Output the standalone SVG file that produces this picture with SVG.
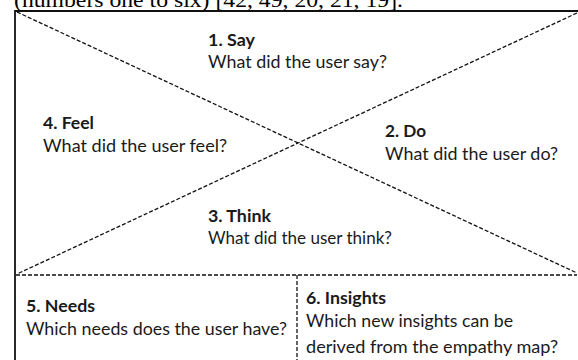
<svg xmlns="http://www.w3.org/2000/svg" width="578" height="360" viewBox="0 0 578 360">
<style>
.t{font-family:Lato,"Open Sans","Liberation Sans",sans-serif;font-size:17px;fill:#1a1a1a}
.b{font-weight:bold}
.d{stroke:#111;stroke-width:1.3;stroke-dasharray:4 2;fill:none}
.s{stroke:#111;stroke-width:1.8;fill:none}
</style>
<rect width="578" height="360" fill="#fff"/>
<text x="14" y="7" font-family="Liberation Serif,serif" font-size="21" fill="#000" textLength="389" lengthAdjust="spacingAndGlyphs">(numbers one to six) [42, 49, 20, 21, 19].</text>
<g id="connectors">
<path class="s" d="M15 360 V11 H578"/>
<path class="d" d="M17 12 L577 273"/>
<path class="d" d="M577 13 L17 274"/>
<path class="d" d="M16 275 H577"/>
<path class="d" d="M297 275 V360"/>
</g>
<g id="say">
<text class="t b" x="208" y="46" textLength="47" lengthAdjust="spacingAndGlyphs">1. Say</text>
<text class="t" x="208" y="68" textLength="179" lengthAdjust="spacingAndGlyphs">What did the user say?</text>
</g>
<g id="feel">
<text class="t b" x="43" y="129" textLength="51" lengthAdjust="spacingAndGlyphs">4. Feel</text>
<text class="t" x="43" y="152" textLength="184" lengthAdjust="spacingAndGlyphs">What did the user feel?</text>
</g>
<g id="do">
<text class="t b" x="385" y="137" textLength="41" lengthAdjust="spacingAndGlyphs">2. Do</text>
<text class="t" x="385" y="160" textLength="173" lengthAdjust="spacingAndGlyphs">What did the user do?</text>
</g>
<g id="think">
<text class="t b" x="208" y="222" textLength="63" lengthAdjust="spacingAndGlyphs">3. Think</text>
<text class="t" x="208" y="244" textLength="184" lengthAdjust="spacingAndGlyphs">What did the user think?</text>
</g>
<g id="needs">
<text class="t b" x="26" y="312" textLength="69" lengthAdjust="spacingAndGlyphs">5. Needs</text>
<text class="t" x="26" y="335" textLength="261" lengthAdjust="spacingAndGlyphs">Which needs does the user have?</text>
</g>
<g id="insights">
<text class="t b" x="306" y="304" textLength="80" lengthAdjust="spacingAndGlyphs">6. Insights</text>
<text class="t" x="306" y="327" textLength="207" lengthAdjust="spacingAndGlyphs">Which new insights can be</text>
<text class="t" x="306" y="353" textLength="252" lengthAdjust="spacingAndGlyphs">derived from the empathy map?</text>
</g>
</svg>
